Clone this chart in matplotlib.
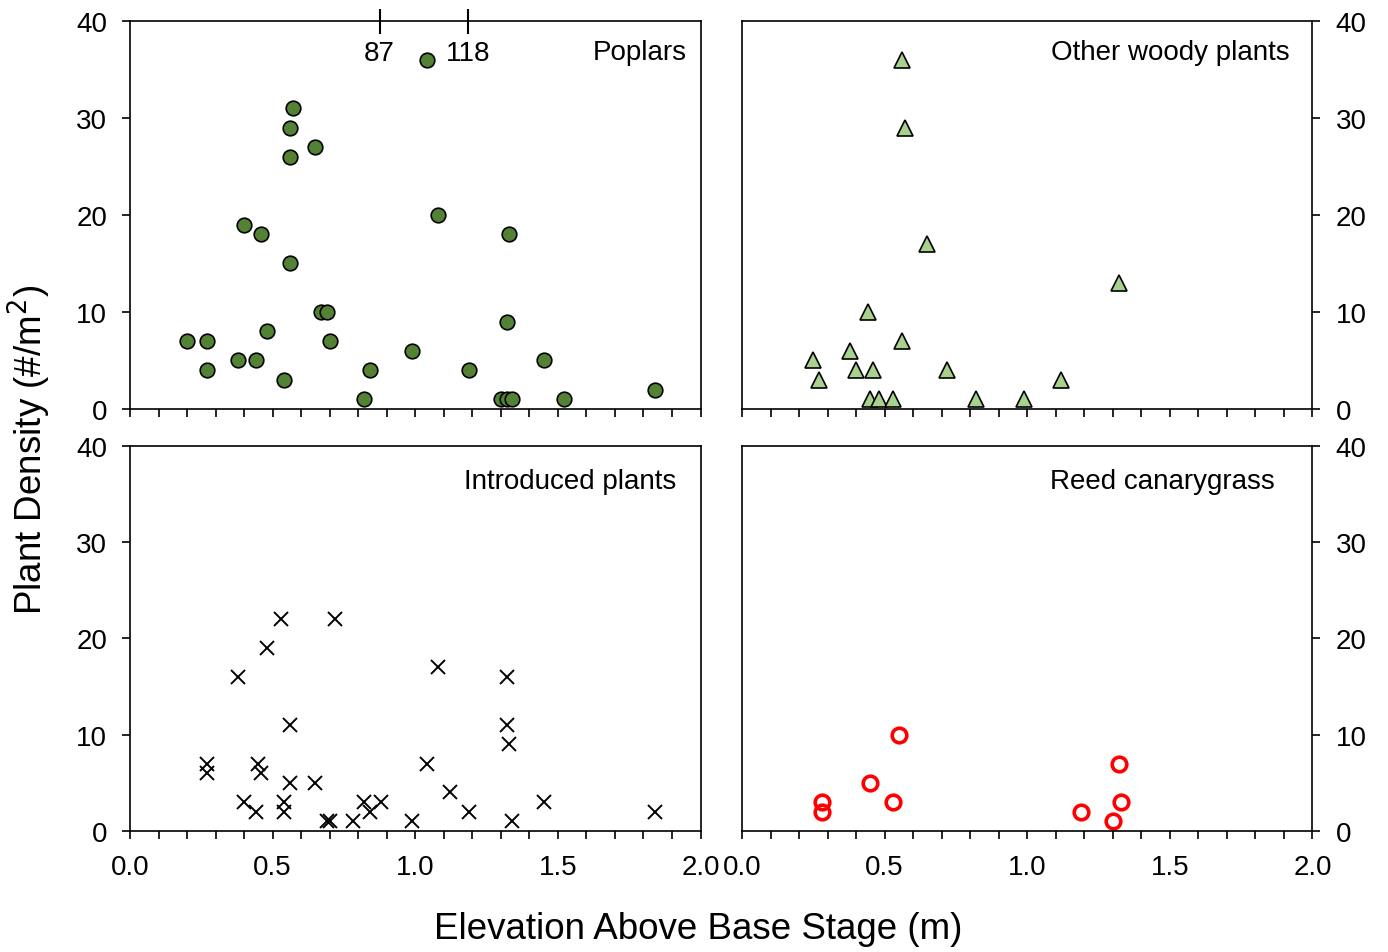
import numpy as np
import matplotlib
matplotlib.use("Agg")
from matplotlib import pyplot as plt
from matplotlib.ticker import MultipleLocator, FormatStrFormatter

plt.rcParams['font.family'] = ['Liberation Sans', 'DejaVu Sans']

# Poplars
poplar_x = [0.20, 0.27, 0.27, 0.38, 0.44, 0.40, 0.46, 0.48, 0.54, 0.57, 0.56, 0.56,
            0.65, 0.56, 0.67, 0.69, 0.70, 0.82, 0.84, 0.99, 1.04, 1.08, 1.19, 1.32,
            1.33, 1.30, 1.32, 1.34, 1.45, 1.52, 1.84]
poplar_y = [7, 7, 4, 5, 5, 19, 18, 8, 3, 31, 29, 26,
            27, 15, 10, 10, 7, 1, 4, 6, 36, 20, 4, 9,
            18, 1, 1, 1, 5, 1, 2]
# poplar values off the top of the scale
off_x = [0.875, 1.186]
off_val = ["87", "118"]

# Other woody plants
woody_x = [0.56, 0.57, 0.65, 1.32, 0.44, 0.56, 0.38, 0.25, 0.27, 0.40, 0.46, 0.72,
           1.12, 0.45, 0.48, 0.53, 0.82, 0.99]
woody_y = [36, 29, 17, 13, 10, 7, 6, 5, 3, 4, 4, 4,
           3, 1, 1, 1, 1, 1]

# Introduced plants
intro_x = [0.53, 0.72, 0.48, 0.38, 0.56, 0.27, 0.27, 0.45, 0.46, 0.56, 0.65, 0.40,
           0.44, 0.54, 0.54, 0.69, 0.70, 0.78, 0.82, 0.84, 0.88, 0.99, 1.04, 1.08,
           1.12, 1.19, 1.32, 1.32, 1.33, 1.34, 1.45, 1.84]
intro_y = [22, 22, 19, 16, 11, 7, 6, 7, 6, 5, 5, 3,
           2, 3, 2, 1, 1, 1, 3, 2, 3, 1, 7, 17,
           4, 2, 16, 11, 9, 1, 3, 2]

# Reed canarygrass
reed_x = [0.55, 0.45, 0.53, 0.28, 0.28, 1.32, 1.33, 1.19, 1.30]
reed_y = [10, 5, 3, 3, 2, 7, 3, 2, 1]

fig = plt.figure(figsize=(13.88, 9.53), dpi=100)
w = 0.411
ax1 = fig.add_axes([0.0937, 0.5698, w, 0.4071])
ax2 = fig.add_axes([0.5346, 0.5698, w, 0.4071])
ax3 = fig.add_axes([0.0937, 0.1270, w, 0.4040])
ax4 = fig.add_axes([0.5346, 0.1270, w, 0.4040])

ax1.plot(poplar_x, poplar_y, 'o', ms=10.5, mfc='#548235', mec='black', mew=1.2, clip_on=False)
ax2.plot(woody_x, woody_y, '^', ms=11.5, mfc='#A9D18E', mec='black', mew=1.2, clip_on=False)
ax3.plot(intro_x, intro_y, 'x', ms=10, color='black', mew=1.4, clip_on=False)
ax4.plot(reed_x, reed_y, 'o', ms=10.5, mfc='none', mec='#FF0000', mew=2.6, clip_on=False)

for ax in (ax1, ax2, ax3, ax4):
    ax.set_xlim(0, 2)
    ax.set_ylim(0, 40)
    ax.xaxis.set_major_locator(MultipleLocator(0.5))
    ax.xaxis.set_minor_locator(MultipleLocator(0.1))
    ax.yaxis.set_major_locator(MultipleLocator(10))
    ax.tick_params(which='both', direction='out', length=6, width=1.2, labelsize=20,
                   pad=10.5, top=False)
    for s in ax.spines.values():
        s.set_linewidth(1.2)
    ax.xaxis.set_major_formatter(FormatStrFormatter('%.1f'))

for ax in (ax1, ax2):
    ax.tick_params(axis='x', which='both', labelbottom=False)
for ax in (ax2, ax4):
    ax.yaxis.tick_right()
    ax.tick_params(axis='y', which='both', left=False, right=True, labelleft=False, labelright=True)
for ax in (ax1, ax3):
    ax.tick_params(axis='y', right=False)

ax1.vlines(off_x, 0.966, 1.031, color='black', lw=1.5,
           transform=ax1.get_xaxis_transform(), clip_on=False)
for xv, lab in zip(off_x, off_val):
    ax1.text(xv, 0.918, lab, transform=ax1.get_xaxis_transform(), ha='center', va='center', fontsize=20)

ax1.text(0.975, 0.92, 'Poplars', transform=ax1.transAxes, ha='right', va='center', fontsize=20)
ax2.text(0.96, 0.92, 'Other woody plants', transform=ax2.transAxes, ha='right', va='center', fontsize=20)
ax3.text(0.958, 0.91, 'Introduced plants', transform=ax3.transAxes, ha='right', va='center', fontsize=20)
ax4.text(0.933, 0.91, 'Reed canarygrass', transform=ax4.transAxes, ha='right', va='center', fontsize=20)

fig.text(0.503, 0.025, 'Elevation Above Base Stage (m)', ha='center', va='center', fontsize=26.5)
fig.text(0.021, 0.528, 'Plant Density (#/m$^2$)', rotation=90, ha='center', va='center', fontsize=26.5)

fig.savefig('out.png', dpi=100)
